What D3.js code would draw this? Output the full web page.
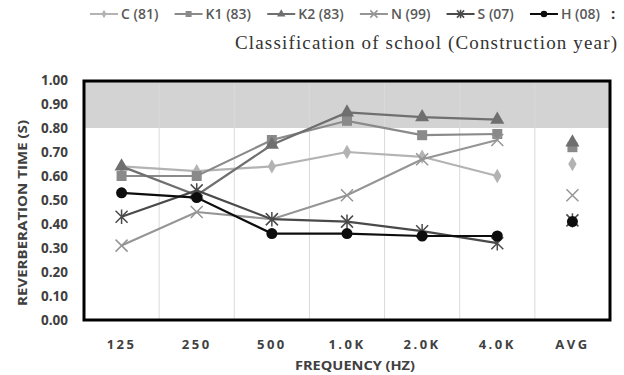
<!DOCTYPE html>
<html><head><meta charset="utf-8">
<script src="https://cdn.jsdelivr.net/npm/d3@7"></script>
<style>
html,body{margin:0;padding:0;background:#fff;}
svg{display:block;}
</style></head>
<body>
<svg id="chart" width="624" height="375"></svg>
<script>
const categories = ["125","250","500","1.0K","2.0K","4.0K","AVG"];
const freqCats = ["125","250","500","1.0K","2.0K","4.0K"];
const seriesNames = ["C (81)","K1 (83)","K2 (83)","N (99)","S (07)","H (08)"];
const valC  = [0.64,0.62,0.64,0.70,0.68,0.60];
const valK1 = [0.60,0.60,0.75,0.83,0.77,0.775];
const valK2 = [0.64,0.52,0.73,0.865,0.845,0.835];
const valN  = [0.31,0.45,0.42,0.52,0.67,0.75];
const valS  = [0.43,0.54,0.42,0.41,0.37,0.32];
const valH  = [0.53,0.51,0.36,0.36,0.35,0.35];
const avgVals = [0.65,0.72,0.74,0.52,0.415,0.41];
const yTicks = [0,0.1,0.2,0.3,0.4,0.5,0.6,0.7,0.8,0.9,1.0];
const bandRange = [0.8,1.0];
const titleText = "Classification of school (Construction year)";

const seriesVals = [valC,valK1,valK2,valN,valS,valH];
const colors = ["#b3b3b3","#8a8a8a","#6f6f6f","#959595","#4a4a4a","#0d0d0d"];
const markers = ["diamond","square","triangle","x","star","circle"];

const svg = d3.select("#chart");
const L=84, R=610, T=80, B=320;
const x = d3.scaleBand().domain(categories).range([L,R]).padding(0);
const y = d3.scaleLinear().domain([0,1]).range([B,T]);

// gray band
svg.append("rect").attr("x",L).attr("width",R-L)
  .attr("y",y(bandRange[1])).attr("height",y(bandRange[0])-y(bandRange[1]))
  .attr("fill","#d3d3d3");

// vertical gridlines at band boundaries
svg.append("g").selectAll("line").data(categories.slice(1)).join("line")
  .attr("x1",d=>x(d)).attr("x2",d=>x(d)).attr("y1",T).attr("y2",B)
  .attr("stroke","#dadada").attr("stroke-width",1);

// y axis labels
const yAxis = d3.axisLeft(y).tickValues(yTicks).tickFormat(d3.format(".2f")).tickSize(0).tickPadding(16);
const gy = svg.append("g").attr("transform",`translate(${L},0)`).call(yAxis);
gy.select(".domain").remove();
gy.selectAll("text").attr("font-family","'Open Sans',sans-serif").attr("font-weight","bold")
  .attr("font-size","13.5px").attr("fill","#404040");

// x axis labels
const xAxis = d3.axisBottom(x).tickSize(0).tickPadding(20);
const gx = svg.append("g").attr("transform",`translate(0,${B})`).call(xAxis);
gx.select(".domain").remove();
gx.selectAll("text").attr("font-family","'Open Sans',sans-serif").attr("font-weight","bold")
  .attr("font-size","13px").attr("fill","#404040").attr("letter-spacing","2.5px");

// axis titles
svg.append("text").attr("transform",`translate(27,${(T+B)/2+13}) rotate(-90)`)
  .attr("text-anchor","middle").attr("font-family","'Open Sans',sans-serif").attr("font-weight","bold")
  .attr("font-size","12.5px").attr("fill","#404040").attr("textLength",186).attr("lengthAdjust","spacingAndGlyphs")
  .text("REVERBERATION TIME (S)");
svg.append("text").attr("x",355).attr("y",370).attr("text-anchor","middle")
  .attr("font-family","'Open Sans',sans-serif").attr("font-weight","bold")
  .attr("font-size","12.5px").attr("fill","#404040").attr("textLength",120).attr("lengthAdjust","spacingAndGlyphs")
  .text("FREQUENCY (HZ)");

function drawMarker(g, type, cx, cy, color, scale){
  const s = scale||1;
  if(type==="diamond"){
    g.append("path").attr("d",d3.symbol(d3.symbolDiamond, 60*s*s)()).attr("transform",`translate(${cx},${cy})`).attr("fill",color);
  } else if(type==="square"){
    g.append("path").attr("d",d3.symbol(d3.symbolSquare, 100*s*s)()).attr("transform",`translate(${cx},${cy})`).attr("fill",color);
  } else if(type==="triangle"){
    g.append("path").attr("d",d3.symbol(d3.symbolTriangle, 85*s*s)()).attr("transform",`translate(${cx},${cy})`).attr("fill",color);
  } else if(type==="circle"){
    g.append("circle").attr("cx",cx).attr("cy",cy).attr("r",5.5*s).attr("fill",color);
  } else if(type==="x" || type==="star"){
    const r=6*s;
    const p = d3.path();
    p.moveTo(cx-r,cy-r); p.lineTo(cx+r,cy+r);
    p.moveTo(cx-r,cy+r); p.lineTo(cx+r,cy-r);
    if(type==="star"){ p.moveTo(cx,cy-r*1.2); p.lineTo(cx,cy+r*1.2); }
    g.append("path").attr("d",p.toString()).attr("stroke",color).attr("stroke-width",1.5).attr("fill","none");
  }
}

const line = d3.line().x((d,i)=>x(freqCats[i])+x.bandwidth()/2).y(d=>y(d));
seriesVals.forEach((vals,si)=>{
  const g = svg.append("g");
  g.append("path").attr("d",line(vals)).attr("fill","none").attr("stroke",colors[si]).attr("stroke-width",2.2);
  vals.forEach((v,i)=>drawMarker(g,markers[si],x(freqCats[i])+x.bandwidth()/2,y(v),colors[si]));
  drawMarker(g,markers[si],x("AVG")+x.bandwidth()/2,y(avgVals[si]),colors[si]);
});

// frame
svg.append("rect").attr("x",L).attr("y",T+1).attr("width",R-L).attr("height",B-T-1)
  .attr("fill","none").attr("stroke","#000").attr("stroke-width",3);

// legend: spread items between legStart and legEnd
const legStart = 90, legEnd = 600, ly = 14, lineW = 28, txtGap = 3;
const lg = svg.append("g");
const items = seriesNames.map((name,si)=>{
  const g = lg.append("g");
  const t = g.append("text").attr("y",ly+5)
    .attr("font-family","'Open Sans',sans-serif").attr("font-weight","600")
    .attr("font-size","14px").attr("fill","#595959").text(name);
  return {g,t,w:t.node().getComputedTextLength(),si};
});
const totalW = d3.sum(items,d=>lineW+txtGap+d.w);
const gap = (legEnd-legStart-totalW)/(items.length-1);
let lx = legStart;
items.forEach(it=>{
  it.g.insert("line","text").attr("x1",lx).attr("x2",lx+lineW).attr("y1",ly).attr("y2",ly)
    .attr("stroke",colors[it.si]).attr("stroke-width",2);
  drawMarker(it.g,markers[it.si],lx+lineW/2,ly,colors[it.si],0.6);
  it.t.attr("x",lx+lineW+txtGap);
  lx += lineW+txtGap+it.w+gap;
});
lg.append("text").attr("x",611).attr("y",ly+5).attr("font-family","'Open Sans',sans-serif")
  .attr("font-weight","bold").attr("font-size","15px").attr("fill","#333").text(":");

// title
svg.append("text").attr("x",617).attr("y",49).attr("text-anchor","end")
  .attr("font-family","'Liberation Serif',serif").attr("font-size","19px").attr("fill","#333")
  .attr("textLength",382).attr("lengthAdjust","spacing")
  .text(titleText);
</script>
</body></html>
